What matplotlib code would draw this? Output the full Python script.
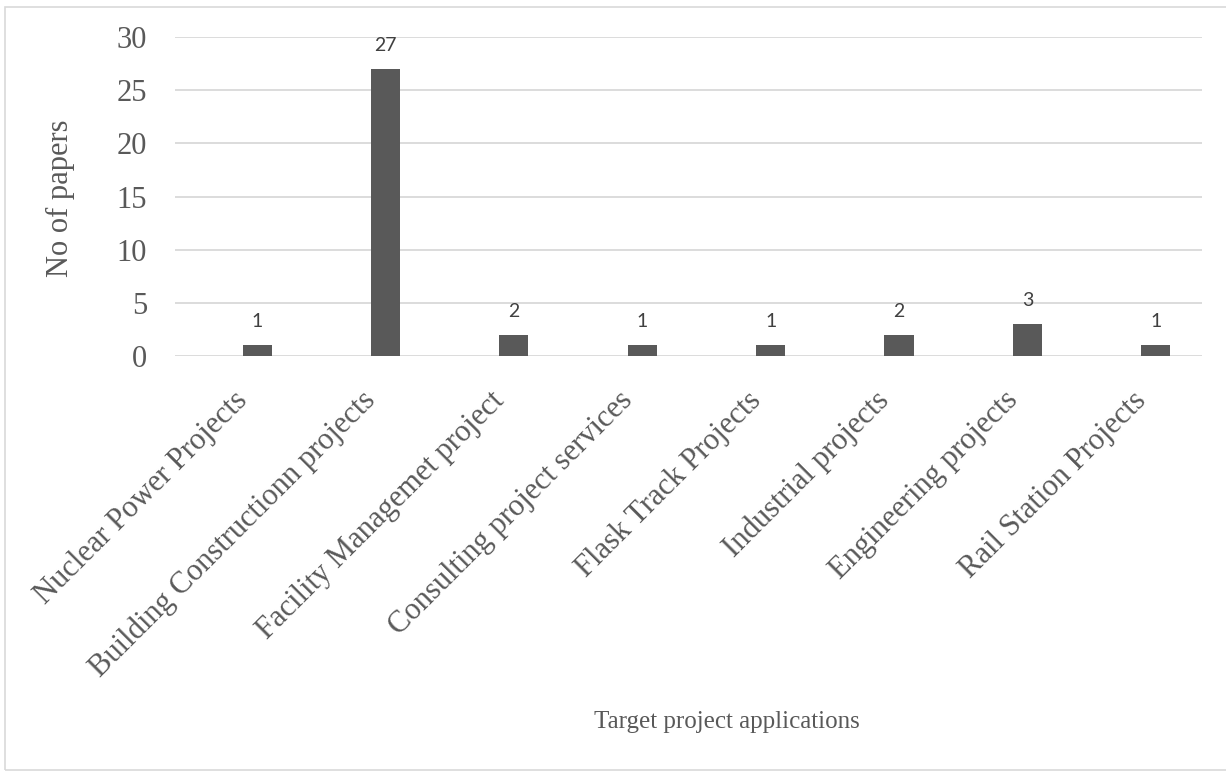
import matplotlib
matplotlib.use("Agg")
import matplotlib.pyplot as plt
from matplotlib.patches import Rectangle
from matplotlib.transforms import ScaledTranslation

categories = [
    "Nuclear Power Projects",
    "Building Constructionn projects",
    "Facility Managemet project",
    "Consulting project services",
    "Flask Track Projects",
    "Industrial projects",
    "Engineering projects",
    "Rail Station Projects",
]
papers = [1, 27, 2, 1, 1, 2, 3, 1]
y_ticks = [0, 5, 10, 15, 20, 25, 30]

W, H = 1226, 772
fig = plt.figure(figsize=(W / 100, H / 100), dpi=100)

# light grey chart-area border
fig.patches.append(Rectangle((5 / W, 2 / H), 1.0, 1 - 9 / H, transform=fig.transFigure,
                             fill=False, edgecolor="#d9d9d9", linewidth=1.2))

ax = fig.add_axes([175 / W, 1 - 356 / H, (1202 - 175) / W, (356 - 37) / H])

x = list(range(len(categories)))
ax.bar(x, papers, width=0.226, color="#595959", zorder=3)

for xi, v in zip(x, papers):
    ax.annotate(str(v), (xi, v), xytext=(0, 13), textcoords="offset points",
                ha="center", va="baseline", fontsize=14, family="Lato",
                color="#404040")

ax.set_xlim(-0.639, 7.36)
ax.set_ylim(0, 30)
ax.set_yticks(y_ticks)
ax.set_yticklabels([str(t) for t in y_ticks], family="Liberation Serif",
                   fontsize=22, color="#595959")
ax.tick_params(axis="y", length=0, pad=20)

ax.set_xticks(x)
ax.set_xticklabels(categories, rotation=45, ha="right", va="center",
                   rotation_mode="anchor", family="Liberation Serif",
                   fontsize=22, color="#595959")
ax.tick_params(axis="x", length=0, pad=16)
shift = ScaledTranslation(-0.14, -0.18, fig.dpi_scale_trans)
for lab in ax.get_xticklabels():
    lab.set_transform(lab.get_transform() + shift)

ax.grid(axis="y", color="#d9d9d9", linewidth=1.3, zorder=0)
for s in ax.spines.values():
    s.set_visible(False)

fig.text(60 / W, 1 - 198 / H, "No of papers", rotation=90, ha="center",
         va="center", family="Liberation Serif", fontsize=22, color="#595959")
fig.text(727 / W, 1 - 722 / H, "Target project applications", ha="center",
         va="center", family="Liberation Serif", fontsize=18, color="#595959")

fig.savefig("out.png", dpi=100)
